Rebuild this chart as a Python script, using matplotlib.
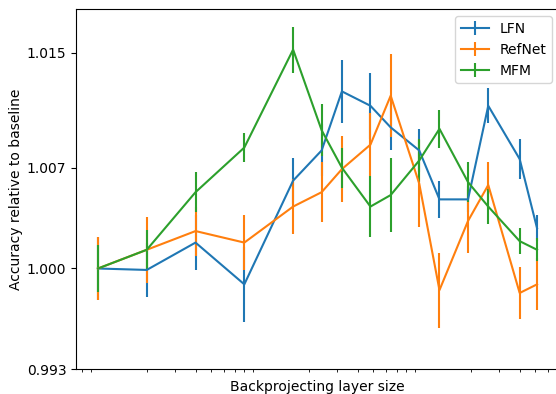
import numpy as np
import matplotlib
matplotlib.use('Agg')
import matplotlib.pyplot as plt
from matplotlib.ticker import NullFormatter, FormatStrFormatter

# layer sizes (log x axis)
sizes = [1, 2, 4, 8, 16, 24, 32, 48, 64, 96, 128, 192, 256, 400, 512]

lfn = [1.0000, 0.9999, 1.0018, 0.9989, 1.0061, 1.0082, 1.0123, 1.0113, 1.0098,
       1.0082, 1.0048, 1.0048, 1.0113, 1.0076, 1.0028]
lfn_err = [0.0022, 0.0019, 0.0019, 0.0026, 0.0016, 0.0018, 0.0022, 0.0023, 0.0016,
           0.0015, 0.0013, 0.0009, 0.0012, 0.0014, 0.0009]

refnet = [1.0000, 1.0013, 1.0026, 1.0018, 1.0043, 1.0053, 1.0069, 1.0086, 1.0120,
          1.0059, 0.9985, 1.0033, 1.0058, 0.9983, 0.9989]
refnet_err = [0.0022, 0.0023, 0.0017, 0.0019, 0.0019, 0.0021, 0.0023, 0.0022, 0.0029,
              0.0030, 0.0026, 0.0022, 0.0016, 0.0018, 0.0018]

mfm = [1.0000, 1.0013, 1.0053, 1.0084, 1.0152, 1.0096, 1.0070, 1.0043, 1.0051,
       1.0075, 1.0097, 1.0060, 1.0043, 1.0019, 1.0013]
mfm_err = [0.0016, 0.0014, 0.0014, 0.0010, 0.0016, 0.0018, 0.0014, 0.0021, 0.0026,
           0.0015, 0.0013, 0.0014, 0.0012, 0.0009, 0.0008]

yticks = [0.993, 1.000, 1.007, 1.015]

fig = plt.figure(figsize=(5.56, 3.94), dpi=100)
W, H = 556, 394
ax = fig.add_axes([76 / W, (H - 369.3) / H, (559 - 76) / W, (369.3 - 9.3) / H])

ax.errorbar(sizes, lfn, yerr=lfn_err, label='LFN')
ax.errorbar(sizes, refnet, yerr=refnet_err, label='RefNet')
ax.errorbar(sizes, mfm, yerr=mfm_err, label='MFM')

ax.set_xscale('log')
ax.set_xticks([])
ax.xaxis.set_minor_formatter(NullFormatter())
ax.set_ylim(0.993, 1.018)
ax.set_yticks(yticks)
ax.yaxis.set_major_formatter(FormatStrFormatter('%.3f'))

ax.set_xlabel('Backprojecting layer size', labelpad=2.5)
ax.set_ylabel('Accuracy relative to baseline', labelpad=2.5)
ax.legend(loc='upper right')

fig.savefig('out.png', dpi=100)
